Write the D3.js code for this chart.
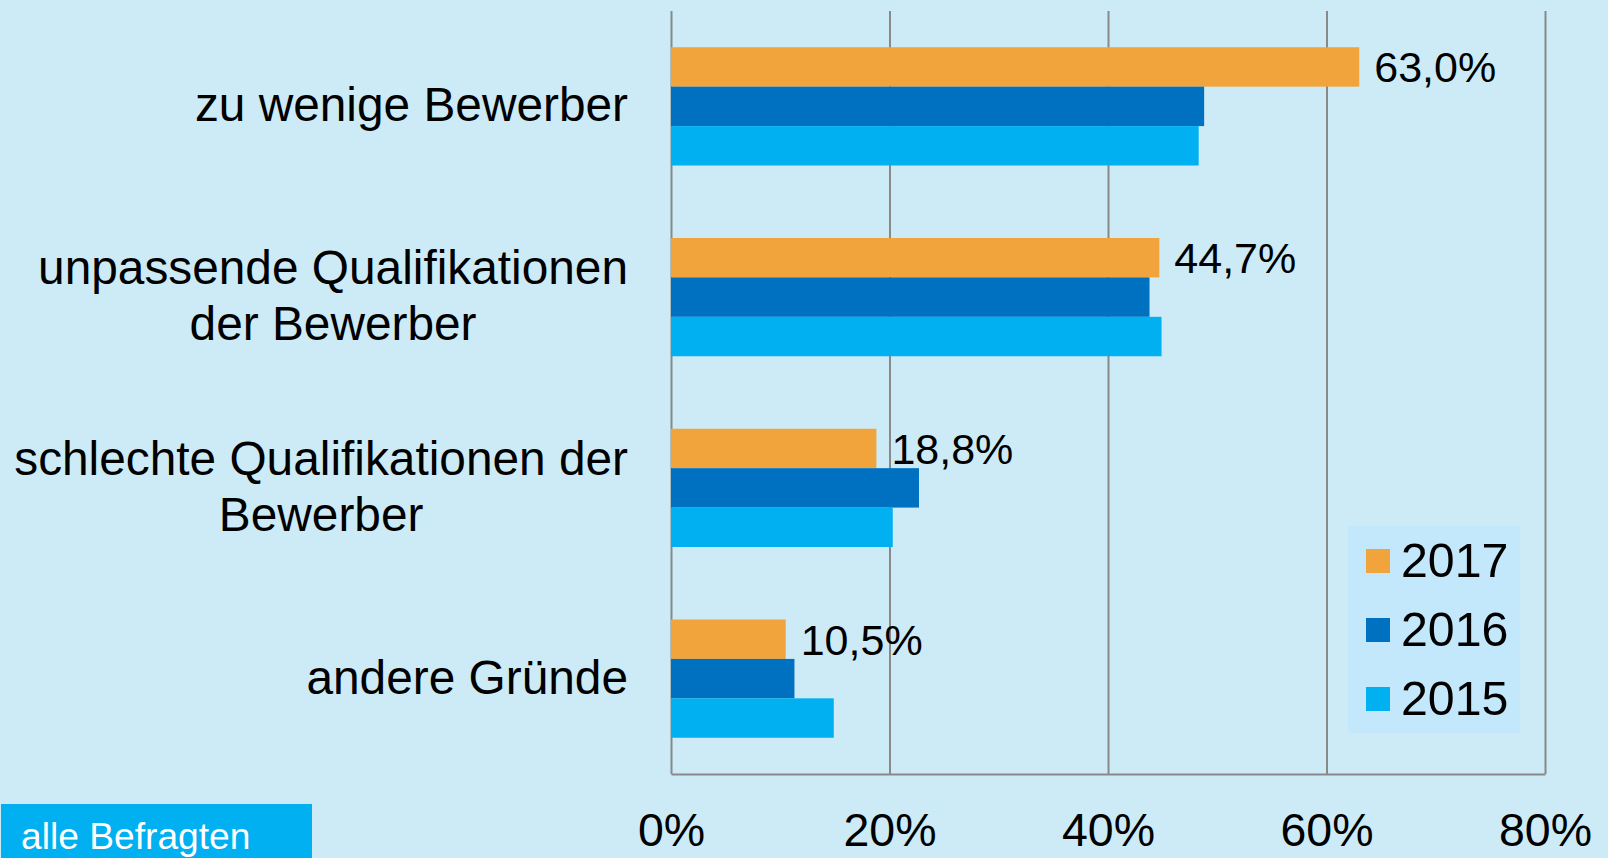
<!DOCTYPE html>
<html>
<head>
<meta charset="utf-8">
<script src="https://cdn.jsdelivr.net/npm/d3@7"></script>
<style>
  html, body { margin: 0; padding: 0; background: #cdebf7; }
  svg { display: block; }
  text { font-family: "Liberation Sans", Arial, sans-serif; }
</style>
</head>
<body>
<svg id="chart" width="1608" height="858"></svg>
<script>
// ---- data ----
const categories = [
  "zu wenige Bewerber",
  "unpassende Qualifikationen der Bewerber",
  "schlechte Qualifikationen der Bewerber",
  "andere Gründe"
];
const categoryLines = [
  ["zu wenige Bewerber"],
  ["unpassende Qualifikationen", "der Bewerber"],
  ["schlechte Qualifikationen der", "Bewerber"],
  ["andere Gründe"]
];
const years = ["2017", "2016", "2015"];
const values2017 = [63.0, 44.7, 18.8, 10.5];
const values2016 = [48.8, 43.8, 22.7, 11.3];
const values2015 = [48.3, 44.9, 20.3, 14.9];
const labels2017 = ["63,0%", "44,7%", "18,8%", "10,5%"];
const tickValues = [0, 20, 40, 60, 80];
const tickLabels = ["0%", "20%", "40%", "60%", "80%"];
const colors = ["#f2a43c", "#0070c0", "#00b0f0"];
const footerLabel = "alle Befragten";

const seriesValues = [values2017, values2016, values2015];

// ---- layout ----
const svg = d3.select("#chart");
const W = 1608, H = 858;
const plot = { left: 671, right: 1545, top: 11, bottom: 774 };

svg.append("rect").attr("width", W).attr("height", H).attr("fill", "#cdebf7");

const x = d3.scaleLinear().domain([0, 80]).range([plot.left, plot.right]);
const y = d3.scaleBand().domain(categories).range([plot.top, plot.bottom])
  .paddingInner(0.38).paddingOuter(0.19);
const ySub = d3.scaleBand().domain(years).range([0, y.bandwidth()]).padding(0);
const color = d3.scaleOrdinal().domain(years).range(colors);

// ---- grid + axis ----
const axisG = svg.append("g")
  .attr("transform", `translate(0,${plot.bottom})`)
  .call(d3.axisBottom(x)
    .tickValues(tickValues)
    .tickSize(-(plot.bottom - plot.top))
    .tickSizeOuter(0)
    .tickFormat((d, i) => tickLabels[i]));
axisG.select(".domain").attr("stroke", "#898989").attr("stroke-width", 2);
axisG.selectAll(".tick line").attr("stroke", "#898989").attr("stroke-width", 2);
axisG.selectAll(".tick text")
  .attr("y", 846 - plot.bottom)
  .attr("dy", 0)
  .attr("fill", "#000")
  .style("font-size", "46.5px")
  .style("font-family", '"Liberation Sans", Arial, sans-serif');

// ---- bars ----
const rows = categories.map((c, i) => ({
  cat: c,
  series: years.map((yr, j) => ({ year: yr, value: seriesValues[j][i] }))
}));

const groups = svg.append("g").selectAll("g.cat")
  .data(rows).join("g")
  .attr("class", "cat")
  .attr("transform", d => `translate(0,${y(d.cat)})`);

groups.selectAll("rect")
  .data(d => d.series).join("rect")
  .attr("x", x(0))
  .attr("y", d => ySub(d.year))
  .attr("width", d => x(d.value) - x(0))
  .attr("height", ySub.bandwidth())
  .attr("fill", d => color(d.year));

// value labels for 2017
groups.append("text")
  .attr("x", (d, i) => x(values2017[i]) + 15)
  .attr("y", ySub("2017") + ySub.bandwidth() / 2 + 15.5)
  .attr("font-size", 43)
  .attr("fill", "#000")
  .text((d, i) => labels2017[i]);

// ---- category labels (block right-aligned, lines centred) ----
const lineH = 56;
const labelRight = 628;
svg.append("g").selectAll("text")
  .data(categories).join("text")
  .attr("text-anchor", "middle")
  .attr("font-size", 47.8)
  .attr("fill", "#000")
  .each(function (c, i) {
    const lines = categoryLines[i];
    const cy = y(c) + y.bandwidth() / 2;
    const n = lines.length;
    const t = d3.select(this);
    const spans = t.selectAll("tspan")
      .data(lines).join("tspan")
      .attr("y", (l, k) => cy + 15 + (k - (n - 1) / 2) * lineH)
      .text(l => l);
    let maxW = 0;
    spans.each(function () { maxW = Math.max(maxW, this.getComputedTextLength()); });
    spans.attr("x", labelRight - maxW / 2);
  });

// ---- legend ----
const legend = svg.append("g");
legend.append("rect")
  .attr("x", 1348).attr("y", 526).attr("width", 172).attr("height", 207)
  .attr("fill", "#c4e8fb");
const li = legend.selectAll("g.item").data(years).join("g")
  .attr("class", "item")
  .attr("transform", (d, i) => `translate(1366,${549 + i * 69})`);
li.append("rect").attr("width", 24).attr("height", 24).attr("fill", d => color(d));
li.append("text")
  .attr("x", 35).attr("y", 28)
  .attr("font-size", 48.3).attr("fill", "#000")
  .text(d => d);

// ---- footer tag ----
svg.append("rect")
  .attr("x", 1).attr("y", 804).attr("width", 311).attr("height", 54)
  .attr("fill", "#00b0f0");
svg.append("text")
  .attr("x", 21).attr("y", 849)
  .attr("font-size", 37.2).attr("fill", "#fff")
  .text(footerLabel);
</script>
</body>
</html>
